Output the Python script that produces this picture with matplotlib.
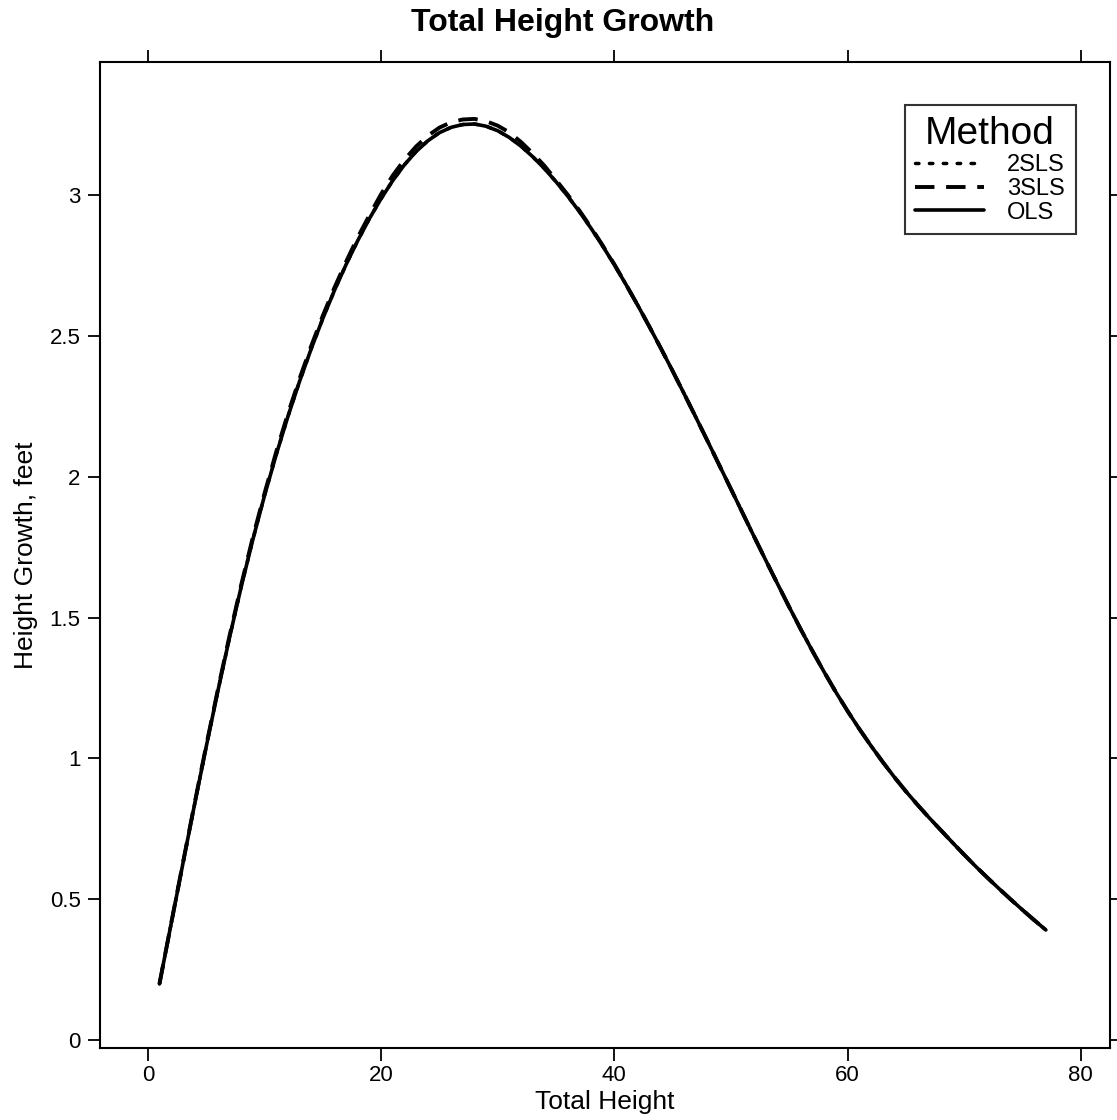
import matplotlib
matplotlib.use("Agg")
import matplotlib.pyplot as plt

plt.rcParams['font.family'] = ['Liberation Sans', 'DejaVu Sans']

height = list(range(1, 78))
ols = [0.200, 0.413, 0.625, 0.835, 1.040, 1.238, 1.428, 1.608, 1.776, 1.932,
       2.077, 2.212, 2.337, 2.453, 2.561, 2.661, 2.753, 2.838, 2.916, 2.987,
       3.051, 3.107, 3.154, 3.192, 3.221, 3.240, 3.250, 3.252, 3.244, 3.228,
       3.204, 3.173, 3.136, 3.094, 3.047, 2.996, 2.941, 2.882, 2.819, 2.752,
       2.682, 2.609, 2.533, 2.455, 2.375, 2.293, 2.210, 2.126, 2.041, 1.956,
       1.871, 1.786, 1.702, 1.619, 1.537, 1.457, 1.380, 1.306, 1.235, 1.168,
       1.105, 1.045, 0.988, 0.934, 0.883, 0.835, 0.789, 0.745, 0.701, 0.658,
       0.616, 0.576, 0.537, 0.499, 0.462, 0.426, 0.391]
sls2 = [0.200, 0.413, 0.625, 0.835, 1.040, 1.238, 1.428, 1.608, 1.776, 1.932,
        2.077, 2.212, 2.337, 2.453, 2.561, 2.661, 2.753, 2.838, 2.916, 2.987,
        3.051, 3.107, 3.154, 3.192, 3.221, 3.240, 3.250, 3.252, 3.244, 3.228,
        3.204, 3.173, 3.136, 3.094, 3.047, 2.996, 2.941, 2.882, 2.819, 2.752,
        2.682, 2.609, 2.533, 2.455, 2.375, 2.293, 2.210, 2.126, 2.041, 1.956,
        1.871, 1.786, 1.702, 1.619, 1.537, 1.457, 1.380, 1.306, 1.235, 1.168,
        1.105, 1.045, 0.988, 0.934, 0.883, 0.835, 0.789, 0.745, 0.701, 0.658,
        0.616, 0.576, 0.537, 0.499, 0.462, 0.426, 0.391]
sls3 = [0.200, 0.414, 0.627, 0.838, 1.044, 1.243, 1.434, 1.615, 1.784, 1.940,
        2.087, 2.222, 2.347, 2.463, 2.571, 2.671, 2.763, 2.850, 2.928, 3.003,
        3.069, 3.125, 3.172, 3.210, 3.239, 3.258, 3.268, 3.270, 3.262, 3.246,
        3.222, 3.188, 3.148, 3.104, 3.053, 3.001, 2.945, 2.885, 2.821, 2.754,
        2.682, 2.609, 2.533, 2.455, 2.375, 2.293, 2.210, 2.126, 2.041, 1.956,
        1.871, 1.786, 1.702, 1.619, 1.537, 1.457, 1.380, 1.306, 1.235, 1.168,
        1.105, 1.045, 0.988, 0.934, 0.883, 0.835, 0.789, 0.745, 0.701, 0.658,
        0.616, 0.576, 0.537, 0.499, 0.462, 0.426, 0.391]
xticks = [0, 20, 40, 60, 80]
yticks = [0, 0.5, 1, 1.5, 2, 2.5, 3]
ytick_labels = ['0', '0.5', '1', '1.5', '2', '2.5', '3']

fig = plt.figure(figsize=(11.17, 11.2), dpi=100)
ax = fig.add_axes([100/1117, 1 - 1048/1120, 1010/1117, 986/1120])

ax.plot(height, sls2, color='black', linestyle=(0, (1, 3)), linewidth=2.5,
        label='2SLS', dash_capstyle='round')
ax.plot(height, sls3, color='black', linestyle=(0, (5, 3)), linewidth=2.8,
        label='3SLS')
ax.plot(height, ols, color='black', linestyle='-', linewidth=2.6, label='OLS',
        solid_capstyle='round', solid_joinstyle='round')

ax.set_xlim(-4.1, 82.5)
ax.set_ylim(-0.028, 3.472)
ax.set_xticks(xticks)
ax.set_xticklabels([str(t) for t in xticks])
ax.set_yticks(yticks)
ax.set_yticklabels(ytick_labels)
ax.tick_params(axis='both', which='both', direction='out', length=9, width=1.3,
               labelsize=16, top=True, right=True, labeltop=False, labelright=False,
               pad=5)
ax.tick_params(axis='x', pad=3)
for s in ax.spines.values():
    s.set_linewidth(1.5)
    s.set_color('black')

ax.set_xlabel('Total Height', fontsize=19, labelpad=3)
ax.set_ylabel('Height Growth, feet', fontsize=19, labelpad=8)
fig.suptitle('Total Height Growth', fontsize=23, fontweight='bold', x=0.504, y=0.993)

leg = ax.legend(title='Method', loc='upper right', bbox_to_anchor=(0.966, 0.956),
                fontsize=17, title_fontsize=28, frameon=True, fancybox=False,
                handlelength=2.9, handletextpad=1.0, borderpad=0.45,
                labelspacing=0.08, edgecolor='black', alignment='center',
                borderaxespad=0)
leg.get_frame().set_linewidth(1.5)

fig.savefig('out.png', dpi=100, facecolor='white')
